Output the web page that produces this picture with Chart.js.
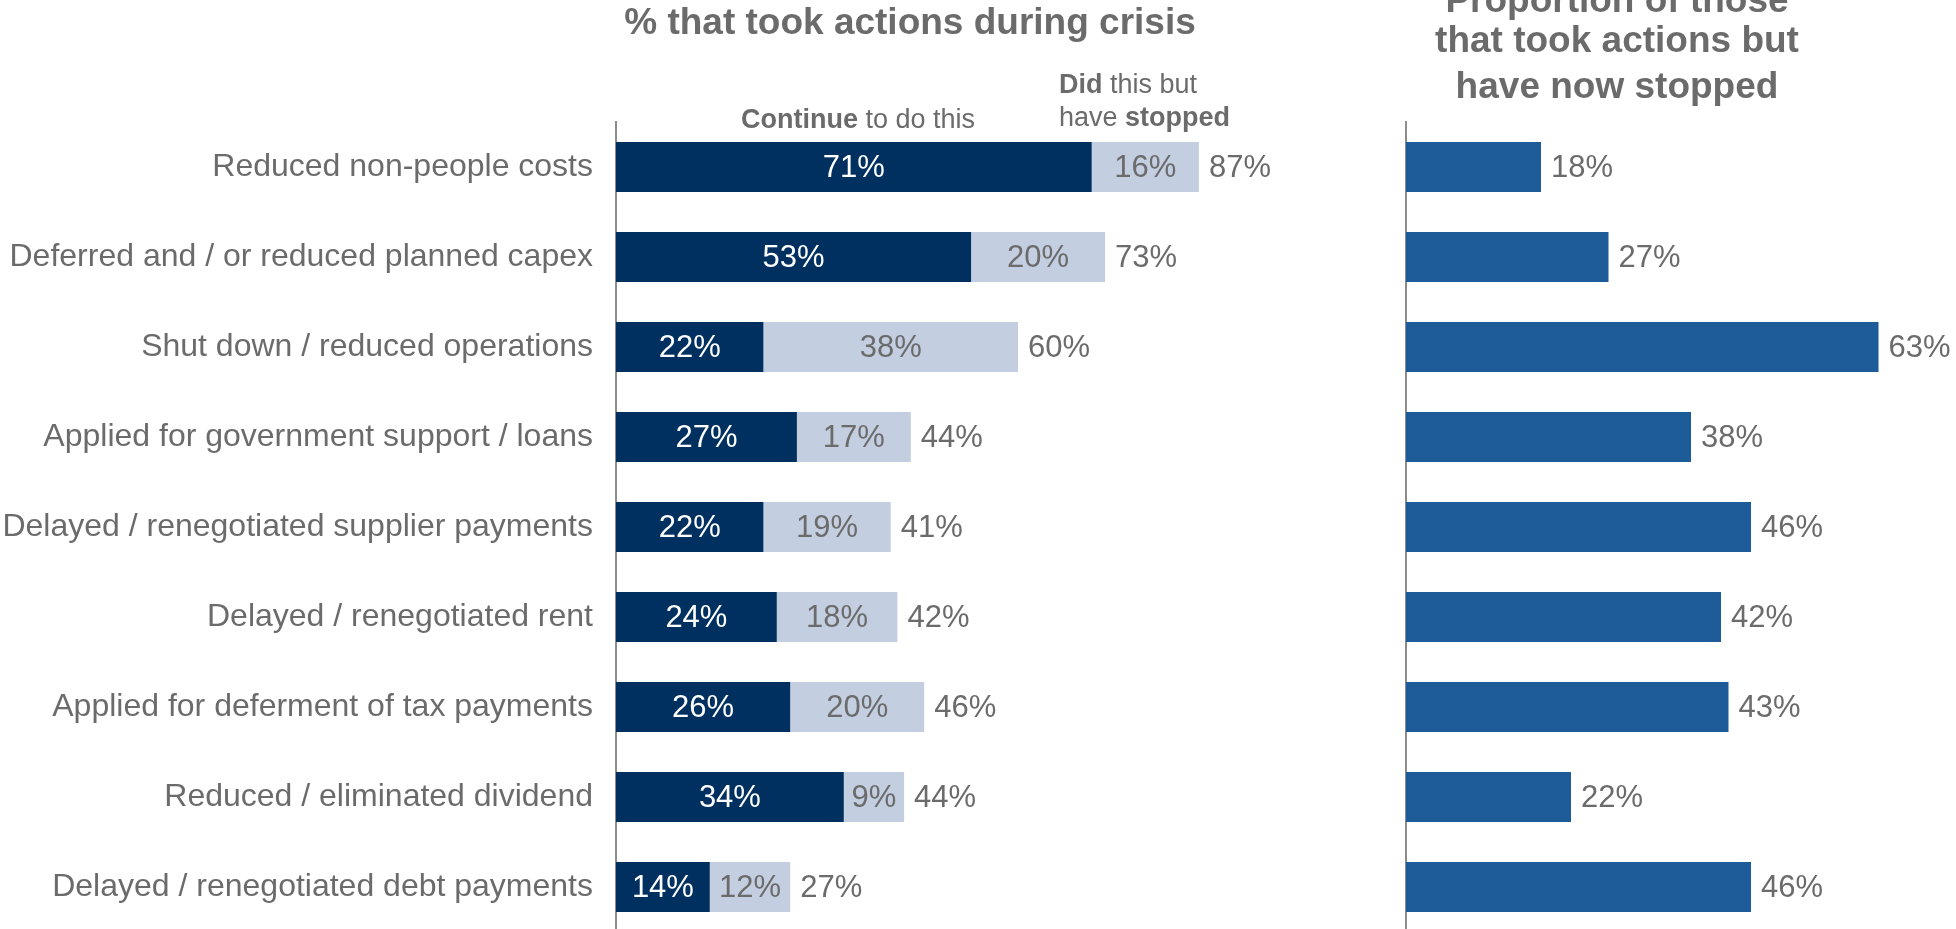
<!DOCTYPE html>
<html>
<head>
<meta charset="utf-8">
<script src="https://cdn.jsdelivr.net/npm/chart.js@4.4.1/dist/chart.umd.min.js"></script>
<style>
  html, body { margin: 0; padding: 0; background: #ffffff; overflow: hidden; }
  #wrap { position: relative; width: 1956px; height: 929px; overflow: hidden; background: #ffffff; }
  #left { position: absolute; left: 0; top: 0; }
  #right { position: absolute; left: 1380px; top: 0; }
</style>
</head>
<body>
<div id="wrap">
  <canvas id="left" width="1286" height="932"></canvas>
  <canvas id="right" width="576" height="932"></canvas>
</div>
<script>
// Actions taken during the crisis (share of respondents, %)
const actions = [
  'Reduced non-people costs',
  'Deferred and / or reduced planned capex',
  'Shut down / reduced operations',
  'Applied for government support / loans',
  'Delayed / renegotiated supplier payments',
  'Delayed / renegotiated rent',
  'Applied for deferment of tax payments',
  'Reduced / eliminated dividend',
  'Delayed / renegotiated debt payments'
];
const continuing = [71, 53, 22, 27, 22, 24, 26, 34, 14];
const stopped = [16, 20, 38, 17, 19, 18, 20, 9, 12];
const tookAction = [87, 73, 60, 44, 41, 42, 46, 44, 27];
const stoppedShare = [18, 27, 63, 38, 46, 42, 43, 22, 46];

const FONT = "'Liberation Sans', Arial, Helvetica, sans-serif";
const GREY = '#6b6b6b';
const NAVY = '#00305f';
const PALE = '#c3cee0';
const BLUE = '#1e5c99';
const AXIS = '#8c8c8c';

// Free text (titles, column captions). Each line is a list of [text, bold] runs.
const textPlugin = {
  id: 'freeText',
  afterDraw(chart, args, opts) {
    const ctx = chart.ctx;
    ctx.save();
    ctx.fillStyle = GREY;
    ctx.textBaseline = 'alphabetic';
    (opts.items || []).forEach(item => {
      const runs = item.runs;
      let total = 0;
      runs.forEach(r => {
        ctx.font = (r[1] ? 'bold ' : '') + item.size + 'px ' + FONT;
        total += ctx.measureText(r[0]).width;
      });
      let x = item.align === 'center' ? item.x - total / 2 : item.x;
      ctx.textAlign = 'left';
      runs.forEach(r => {
        ctx.font = (r[1] ? 'bold ' : '') + item.size + 'px ' + FONT;
        ctx.fillText(r[0], x, item.y);
        x += ctx.measureText(r[0]).width;
      });
    });
    ctx.restore();
  }
};

// Value labels: inside segments, and after the end of the last bar.
const valuePlugin = {
  id: 'valueLabels',
  afterDatasetsDraw(chart, args, opts) {
    const ctx = chart.ctx;
    ctx.save();
    ctx.font = '31px ' + FONT;
    ctx.textBaseline = 'middle';
    chart.data.datasets.forEach((ds, di) => {
      const meta = chart.getDatasetMeta(di);
      meta.data.forEach((bar, i) => {
        const v = ds.data[i];
        if (ds.inside) {
          ctx.textAlign = 'center';
          ctx.fillStyle = ds.inside;
          ctx.fillText(v + '%', (bar.x + bar.base) / 2, bar.y + 1);
        }
        if (ds.outside) {
          ctx.textAlign = 'left';
          ctx.fillStyle = GREY;
          ctx.fillText(ds.outside[i] + '%', bar.x + 10, bar.y + 1);
        }
      });
    });
    ctx.restore();
  }
};

const catFraction = 50 / 90;

// Category axis keeps the full height: no extra room for the end labels.
function fixAxis(width) {
  return function (scale) {
    scale.width = width;
    scale.paddingTop = 0;
    scale.paddingBottom = 0;
  };
}

new Chart(document.getElementById('left'), {
  type: 'bar',
  data: {
    labels: actions,
    datasets: [
      { label: 'Continue to do this', data: continuing, backgroundColor: NAVY,
        barPercentage: 1, categoryPercentage: catFraction, inside: '#ffffff' },
      { label: 'Did this but have stopped', data: stopped, backgroundColor: PALE,
        barPercentage: 1, categoryPercentage: catFraction, inside: GREY, outside: tookAction }
    ]
  },
  options: {
    indexAxis: 'y',
    responsive: false,
    animation: false,
    layout: { padding: { top: 122, left: 0, right: 0, bottom: 0 } },
    scales: {
      x: { stacked: true, min: 0, max: 100, display: false },
      y: {
        stacked: true,
        grid: { display: false, drawTicks: false },
        border: { display: true, color: AXIS, width: 2 },
        ticks: { color: GREY, font: { family: FONT, size: 32 }, padding: 23 },
        afterFit: fixAxis(616)
      }
    },
    plugins: {
      legend: { display: false },
      tooltip: { enabled: false },
      freeText: {
        items: [
          { runs: [['% that took actions during crisis', true]], size: 37, x: 910, y: 34, align: 'center' },
          { runs: [['Continue', true], [' to do this', false]], size: 27, x: 858, y: 128, align: 'center' },
          { runs: [['Did', true], [' this but', false]], size: 27, x: 1059, y: 93, align: 'left' },
          { runs: [['have ', false], ['stopped', true]], size: 27, x: 1059, y: 126, align: 'left' }
        ]
      }
    }
  },
  plugins: [valuePlugin, textPlugin]
});

new Chart(document.getElementById('right'), {
  type: 'bar',
  data: {
    labels: actions,
    datasets: [
      { label: 'Proportion of those that took actions but have now stopped', data: stoppedShare,
        backgroundColor: BLUE, barPercentage: 1, categoryPercentage: catFraction, outside: stoppedShare }
    ]
  },
  options: {
    indexAxis: 'y',
    responsive: false,
    animation: false,
    layout: { padding: { top: 122, left: 0, right: 0, bottom: 0 } },
    scales: {
      x: { min: 0, max: 73.33, display: false },
      y: {
        grid: { display: false, drawTicks: false },
        border: { display: true, color: AXIS, width: 2 },
        ticks: { display: false },
        afterFit: fixAxis(26)
      }
    },
    plugins: {
      legend: { display: false },
      tooltip: { enabled: false },
      freeText: {
        items: [
          { runs: [['Proportion of those', true]], size: 37, x: 237, y: 12, align: 'center' },
          { runs: [['that took actions but', true]], size: 37, x: 237, y: 52, align: 'center' },
          { runs: [['have now stopped', true]], size: 37, x: 237, y: 98, align: 'center' }
        ]
      }
    }
  },
  plugins: [valuePlugin, textPlugin]
});
</script>
</body>
</html>
